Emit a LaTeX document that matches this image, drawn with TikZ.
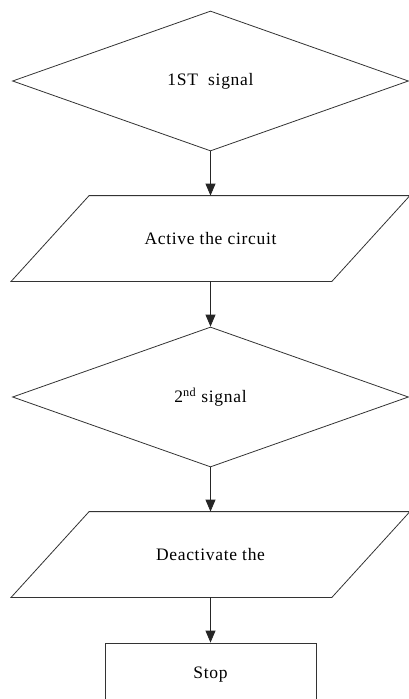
\documentclass[tikz,border=0pt]{standalone}
\usepackage{fontspec}
\setmainfont[LetterSpace=4]{Liberation Serif}
\usetikzlibrary{arrows.meta, shapes.geometric}

\begin{document}
\begin{tikzpicture}[
            x=1pt,
            y=1pt,
            >={Triangle[width=10pt,length=12pt]},
            font=\fontsize{17.5}{20}\selectfont,
            line width=0.8pt,
            decision/.style={diamond, draw=black!80, minimum width=396pt, minimum height=140pt, inner sep=0pt},
            inout/.style={rectangle, minimum width=320pt, minimum height=85pt, inner sep=0pt},
            slant/.style={draw=black!80, line join=miter},
            stopbox/.style={rectangle, draw=black!80, minimum width=211pt, minimum height=64pt},
            flow/.style={->, draw=black!85}
        ]

            % --- Definitions ---
            \def\sl{39pt}

            % --- Page frame ---
            \useasboundingbox (0,0) rectangle (409,-699);

            % --- Steps ---
            \node[decision] (sig1) at (210.5,-81) {1ST\ \ signal};
            \node[inout] (act) at (210.5,-238.5) {Active the circuit};
            \node[decision] (sig2) at (210.5,-397) {2\textsuperscript{nd} signal};
            \node[inout] (deact) at (210.5,-554.5) {Deactivate the};
            \node[stopbox] (stop) at (210.5,-675) {Stop};

            % --- Parallelograms ---
            \draw[slant] ([xshift=\sl]act.north west) -- ([xshift=\sl]act.north east)
                -- ([xshift=-\sl]act.south east) -- ([xshift=-\sl]act.south west) -- cycle;
            \draw[slant] ([xshift=\sl]deact.north west) -- ([xshift=\sl]deact.north east)
                -- ([xshift=-\sl]deact.south east) -- ([xshift=-\sl]deact.south west) -- cycle;

            % --- Flow ---
            \draw[flow] (sig1.south) -- (act.north);
            \draw[flow] (act.south) -- (sig2.north);
            \draw[flow] (sig2.south) -- (deact.north);
            \draw[flow] (deact.south) -- (stop.north);

        \end{tikzpicture}
\end{document}
